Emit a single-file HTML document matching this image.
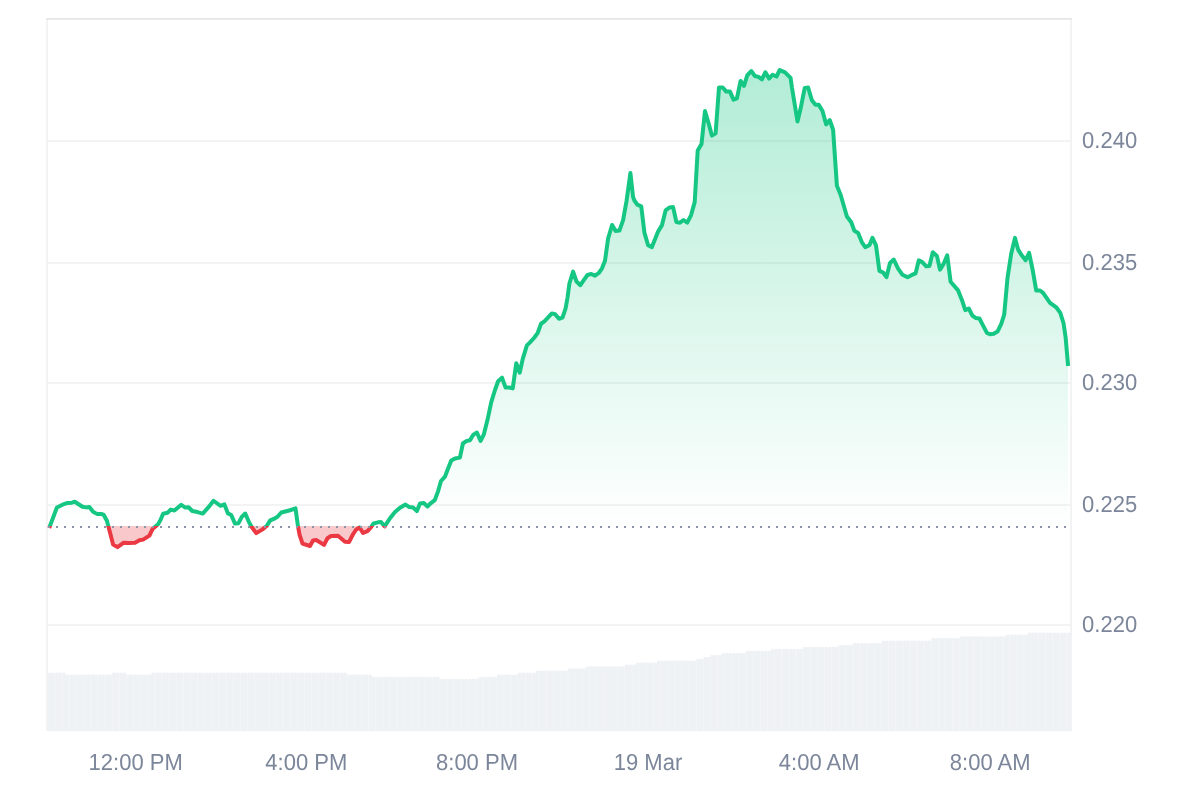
<!DOCTYPE html>
<html lang="en"><head><meta charset="utf-8"><title>Price chart</title>
<style>
html,body{margin:0;padding:0;background:#fff;width:1200px;height:800px;overflow:hidden}
svg{display:block}
.t{font-family:"Liberation Sans",Arial,Helvetica,sans-serif;font-size:22px;text-rendering:geometricPrecision;fill:#7b8599}
</style></head><body>
<svg width="1200" height="800" viewBox="0 0 1200 800">
<defs>
<linearGradient id="gg" gradientUnits="userSpaceOnUse" x1="0" y1="69" x2="0" y2="526.1">
<stop offset="0" stop-color="#16c784" stop-opacity="0.33"/>
<stop offset="1" stop-color="#16c784" stop-opacity="0"/>
</linearGradient>
<clipPath id="up"><rect x="0" y="0" width="1200" height="526.1"/></clipPath>
<clipPath id="dn"><rect x="0" y="526.1" width="1200" height="300"/></clipPath>
</defs>
<rect width="1200" height="800" fill="#fff"/>
<line x1="47.0" x2="1071.0" y1="141.1" y2="141.1" stroke="#f3f3f3" stroke-width="2"/>
<line x1="47.0" x2="1071.0" y1="263.0" y2="263.0" stroke="#f3f3f3" stroke-width="2"/>
<line x1="47.0" x2="1071.0" y1="383.0" y2="383.0" stroke="#f3f3f3" stroke-width="2"/>
<line x1="47.0" x2="1071.0" y1="504.9" y2="504.9" stroke="#f3f3f3" stroke-width="2"/>
<line x1="47.0" x2="1071.0" y1="625.1" y2="625.1" stroke="#f3f3f3" stroke-width="2"/>
<path d="M47.05,731 V18.8 M1071.1,731 V18.8" fill="none" stroke="#f2f2f2" stroke-width="1.8"/>
<path d="M46.2,18.8 H1072" fill="none" stroke="#e6e6e6" stroke-width="1.8"/>
<path d="M47.90,731.3 V673.90 Q47.90,672.50 49.30,672.50 H50.06 Q51.46,672.50 51.46,673.90 V731.3 Z M51.46,731.3 V673.90 Q51.46,672.50 52.86,672.50 H53.62 Q55.02,672.50 55.02,673.90 V731.3 Z M55.02,731.3 V673.90 Q55.02,672.50 56.42,672.50 H57.19 Q58.59,672.50 58.59,673.90 V731.3 Z M58.59,731.3 V673.90 Q58.59,672.50 59.99,672.50 H60.75 Q62.15,672.50 62.15,673.90 V731.3 Z M62.15,731.3 V673.90 Q62.15,672.50 63.55,672.50 H64.31 Q65.71,672.50 65.71,673.90 V731.3 Z M65.71,731.3 V675.90 Q65.71,674.50 67.11,674.50 H67.87 Q69.27,674.50 69.27,675.90 V731.3 Z M69.27,731.3 V675.90 Q69.27,674.50 70.67,674.50 H71.44 Q72.84,674.50 72.84,675.90 V731.3 Z M72.84,731.3 V675.90 Q72.84,674.50 74.24,674.50 H75.00 Q76.40,674.50 76.40,675.90 V731.3 Z M76.40,731.3 V675.90 Q76.40,674.50 77.80,674.50 H78.56 Q79.96,674.50 79.96,675.90 V731.3 Z M79.96,731.3 V675.90 Q79.96,674.50 81.36,674.50 H82.12 Q83.52,674.50 83.52,675.90 V731.3 Z M83.52,731.3 V675.90 Q83.52,674.50 84.92,674.50 H85.69 Q87.09,674.50 87.09,675.90 V731.3 Z M87.09,731.3 V675.90 Q87.09,674.50 88.49,674.50 H89.25 Q90.65,674.50 90.65,675.90 V731.3 Z M90.65,731.3 V675.90 Q90.65,674.50 92.05,674.50 H92.81 Q94.21,674.50 94.21,675.90 V731.3 Z M94.21,731.3 V675.90 Q94.21,674.50 95.61,674.50 H96.37 Q97.77,674.50 97.77,675.90 V731.3 Z M97.77,731.3 V675.90 Q97.77,674.50 99.17,674.50 H99.93 Q101.33,674.50 101.33,675.90 V731.3 Z M101.33,731.3 V675.90 Q101.33,674.50 102.73,674.50 H103.50 Q104.90,674.50 104.90,675.90 V731.3 Z M104.90,731.3 V675.90 Q104.90,674.50 106.30,674.50 H107.06 Q108.46,674.50 108.46,675.90 V731.3 Z M108.46,731.3 V675.90 Q108.46,674.50 109.86,674.50 H110.62 Q112.02,674.50 112.02,675.90 V731.3 Z M112.02,731.3 V673.90 Q112.02,672.50 113.42,672.50 H114.18 Q115.58,672.50 115.58,673.90 V731.3 Z M115.58,731.3 V673.90 Q115.58,672.50 116.98,672.50 H117.75 Q119.15,672.50 119.15,673.90 V731.3 Z M119.15,731.3 V673.90 Q119.15,672.50 120.55,672.50 H121.31 Q122.71,672.50 122.71,673.90 V731.3 Z M122.71,731.3 V673.90 Q122.71,672.50 124.11,672.50 H124.87 Q126.27,672.50 126.27,673.90 V731.3 Z M126.27,731.3 V675.90 Q126.27,674.50 127.67,674.50 H128.43 Q129.83,674.50 129.83,675.90 V731.3 Z M129.83,731.3 V675.90 Q129.83,674.50 131.23,674.50 H132.00 Q133.40,674.50 133.40,675.90 V731.3 Z M133.40,731.3 V675.90 Q133.40,674.50 134.80,674.50 H135.56 Q136.96,674.50 136.96,675.90 V731.3 Z M136.96,731.3 V675.90 Q136.96,674.50 138.36,674.50 H139.12 Q140.52,674.50 140.52,675.90 V731.3 Z M140.52,731.3 V675.90 Q140.52,674.50 141.92,674.50 H142.68 Q144.08,674.50 144.08,675.90 V731.3 Z M144.08,731.3 V675.90 Q144.08,674.50 145.48,674.50 H146.24 Q147.64,674.50 147.64,675.90 V731.3 Z M147.64,731.3 V675.90 Q147.64,674.50 149.04,674.50 H149.81 Q151.21,674.50 151.21,675.90 V731.3 Z M151.21,731.3 V673.90 Q151.21,672.50 152.61,672.50 H153.37 Q154.77,672.50 154.77,673.90 V731.3 Z M154.77,731.3 V673.90 Q154.77,672.50 156.17,672.50 H156.93 Q158.33,672.50 158.33,673.90 V731.3 Z M158.33,731.3 V673.90 Q158.33,672.50 159.73,672.50 H160.49 Q161.89,672.50 161.89,673.90 V731.3 Z M161.89,731.3 V673.90 Q161.89,672.50 163.29,672.50 H164.06 Q165.46,672.50 165.46,673.90 V731.3 Z M165.46,731.3 V673.90 Q165.46,672.50 166.86,672.50 H167.62 Q169.02,672.50 169.02,673.90 V731.3 Z M169.02,731.3 V673.90 Q169.02,672.50 170.42,672.50 H171.18 Q172.58,672.50 172.58,673.90 V731.3 Z M172.58,731.3 V673.90 Q172.58,672.50 173.98,672.50 H174.74 Q176.14,672.50 176.14,673.90 V731.3 Z M176.14,731.3 V673.90 Q176.14,672.50 177.54,672.50 H178.31 Q179.71,672.50 179.71,673.90 V731.3 Z M179.71,731.3 V673.90 Q179.71,672.50 181.11,672.50 H181.87 Q183.27,672.50 183.27,673.90 V731.3 Z M183.27,731.3 V673.90 Q183.27,672.50 184.67,672.50 H185.43 Q186.83,672.50 186.83,673.90 V731.3 Z M186.83,731.3 V673.90 Q186.83,672.50 188.23,672.50 H188.99 Q190.39,672.50 190.39,673.90 V731.3 Z M190.39,731.3 V673.90 Q190.39,672.50 191.79,672.50 H192.55 Q193.95,672.50 193.95,673.90 V731.3 Z M193.95,731.3 V673.90 Q193.95,672.50 195.35,672.50 H196.12 Q197.52,672.50 197.52,673.90 V731.3 Z M197.52,731.3 V673.90 Q197.52,672.50 198.92,672.50 H199.68 Q201.08,672.50 201.08,673.90 V731.3 Z M201.08,731.3 V673.90 Q201.08,672.50 202.48,672.50 H203.24 Q204.64,672.50 204.64,673.90 V731.3 Z M204.64,731.3 V673.90 Q204.64,672.50 206.04,672.50 H206.80 Q208.20,672.50 208.20,673.90 V731.3 Z M208.20,731.3 V673.90 Q208.20,672.50 209.60,672.50 H210.37 Q211.77,672.50 211.77,673.90 V731.3 Z M211.77,731.3 V673.90 Q211.77,672.50 213.17,672.50 H213.93 Q215.33,672.50 215.33,673.90 V731.3 Z M215.33,731.3 V673.90 Q215.33,672.50 216.73,672.50 H217.49 Q218.89,672.50 218.89,673.90 V731.3 Z M218.89,731.3 V673.90 Q218.89,672.50 220.29,672.50 H221.05 Q222.45,672.50 222.45,673.90 V731.3 Z M222.45,731.3 V673.90 Q222.45,672.50 223.85,672.50 H224.61 Q226.01,672.50 226.01,673.90 V731.3 Z M226.01,731.3 V673.90 Q226.01,672.50 227.41,672.50 H228.18 Q229.58,672.50 229.58,673.90 V731.3 Z M229.58,731.3 V673.90 Q229.58,672.50 230.98,672.50 H231.74 Q233.14,672.50 233.14,673.90 V731.3 Z M233.14,731.3 V673.90 Q233.14,672.50 234.54,672.50 H235.30 Q236.70,672.50 236.70,673.90 V731.3 Z M236.70,731.3 V673.90 Q236.70,672.50 238.10,672.50 H238.86 Q240.26,672.50 240.26,673.90 V731.3 Z M240.26,731.3 V673.90 Q240.26,672.50 241.66,672.50 H242.43 Q243.83,672.50 243.83,673.90 V731.3 Z M243.83,731.3 V673.90 Q243.83,672.50 245.23,672.50 H245.99 Q247.39,672.50 247.39,673.90 V731.3 Z M247.39,731.3 V673.90 Q247.39,672.50 248.79,672.50 H249.55 Q250.95,672.50 250.95,673.90 V731.3 Z M250.95,731.3 V673.90 Q250.95,672.50 252.35,672.50 H253.11 Q254.51,672.50 254.51,673.90 V731.3 Z M254.51,731.3 V673.90 Q254.51,672.50 255.91,672.50 H256.68 Q258.08,672.50 258.08,673.90 V731.3 Z M258.08,731.3 V673.90 Q258.08,672.50 259.48,672.50 H260.24 Q261.64,672.50 261.64,673.90 V731.3 Z M261.64,731.3 V673.90 Q261.64,672.50 263.04,672.50 H263.80 Q265.20,672.50 265.20,673.90 V731.3 Z M265.20,731.3 V673.90 Q265.20,672.50 266.60,672.50 H267.36 Q268.76,672.50 268.76,673.90 V731.3 Z M268.76,731.3 V673.90 Q268.76,672.50 270.16,672.50 H270.92 Q272.32,672.50 272.32,673.90 V731.3 Z M272.32,731.3 V673.90 Q272.32,672.50 273.72,672.50 H274.49 Q275.89,672.50 275.89,673.90 V731.3 Z M275.89,731.3 V673.90 Q275.89,672.50 277.29,672.50 H278.05 Q279.45,672.50 279.45,673.90 V731.3 Z M279.45,731.3 V673.90 Q279.45,672.50 280.85,672.50 H281.61 Q283.01,672.50 283.01,673.90 V731.3 Z M283.01,731.3 V673.90 Q283.01,672.50 284.41,672.50 H285.17 Q286.57,672.50 286.57,673.90 V731.3 Z M286.57,731.3 V673.90 Q286.57,672.50 287.97,672.50 H288.74 Q290.14,672.50 290.14,673.90 V731.3 Z M290.14,731.3 V673.90 Q290.14,672.50 291.54,672.50 H292.30 Q293.70,672.50 293.70,673.90 V731.3 Z M293.70,731.3 V673.90 Q293.70,672.50 295.10,672.50 H295.86 Q297.26,672.50 297.26,673.90 V731.3 Z M297.26,731.3 V673.90 Q297.26,672.50 298.66,672.50 H299.42 Q300.82,672.50 300.82,673.90 V731.3 Z M300.82,731.3 V673.90 Q300.82,672.50 302.22,672.50 H302.99 Q304.39,672.50 304.39,673.90 V731.3 Z M304.39,731.3 V673.90 Q304.39,672.50 305.79,672.50 H306.55 Q307.95,672.50 307.95,673.90 V731.3 Z M307.95,731.3 V673.90 Q307.95,672.50 309.35,672.50 H310.11 Q311.51,672.50 311.51,673.90 V731.3 Z M311.51,731.3 V673.90 Q311.51,672.50 312.91,672.50 H313.67 Q315.07,672.50 315.07,673.90 V731.3 Z M315.07,731.3 V673.90 Q315.07,672.50 316.47,672.50 H317.23 Q318.63,672.50 318.63,673.90 V731.3 Z M318.63,731.3 V673.90 Q318.63,672.50 320.03,672.50 H320.80 Q322.20,672.50 322.20,673.90 V731.3 Z M322.20,731.3 V673.90 Q322.20,672.50 323.60,672.50 H324.36 Q325.76,672.50 325.76,673.90 V731.3 Z M325.76,731.3 V673.90 Q325.76,672.50 327.16,672.50 H327.92 Q329.32,672.50 329.32,673.90 V731.3 Z M329.32,731.3 V673.90 Q329.32,672.50 330.72,672.50 H331.48 Q332.88,672.50 332.88,673.90 V731.3 Z M332.88,731.3 V673.90 Q332.88,672.50 334.28,672.50 H335.05 Q336.45,672.50 336.45,673.90 V731.3 Z M336.45,731.3 V673.90 Q336.45,672.50 337.85,672.50 H338.61 Q340.01,672.50 340.01,673.90 V731.3 Z M340.01,731.3 V673.90 Q340.01,672.50 341.41,672.50 H342.17 Q343.57,672.50 343.57,673.90 V731.3 Z M343.57,731.3 V673.90 Q343.57,672.50 344.97,672.50 H345.73 Q347.13,672.50 347.13,673.90 V731.3 Z M347.13,731.3 V675.90 Q347.13,674.50 348.53,674.50 H349.30 Q350.70,674.50 350.70,675.90 V731.3 Z M350.70,731.3 V675.90 Q350.70,674.50 352.10,674.50 H352.86 Q354.26,674.50 354.26,675.90 V731.3 Z M354.26,731.3 V675.90 Q354.26,674.50 355.66,674.50 H356.42 Q357.82,674.50 357.82,675.90 V731.3 Z M357.82,731.3 V675.90 Q357.82,674.50 359.22,674.50 H359.98 Q361.38,674.50 361.38,675.90 V731.3 Z M361.38,731.3 V675.90 Q361.38,674.50 362.78,674.50 H363.54 Q364.94,674.50 364.94,675.90 V731.3 Z M364.94,731.3 V675.90 Q364.94,674.50 366.34,674.50 H367.11 Q368.51,674.50 368.51,675.90 V731.3 Z M368.51,731.3 V675.90 Q368.51,674.50 369.91,674.50 H370.67 Q372.07,674.50 372.07,675.90 V731.3 Z M372.07,731.3 V678.15 Q372.07,676.75 373.47,676.75 H374.23 Q375.63,676.75 375.63,678.15 V731.3 Z M375.63,731.3 V678.15 Q375.63,676.75 377.03,676.75 H377.79 Q379.19,676.75 379.19,678.15 V731.3 Z M379.19,731.3 V678.15 Q379.19,676.75 380.59,676.75 H381.36 Q382.76,676.75 382.76,678.15 V731.3 Z M382.76,731.3 V678.15 Q382.76,676.75 384.16,676.75 H384.92 Q386.32,676.75 386.32,678.15 V731.3 Z M386.32,731.3 V678.15 Q386.32,676.75 387.72,676.75 H388.48 Q389.88,676.75 389.88,678.15 V731.3 Z M389.88,731.3 V678.15 Q389.88,676.75 391.28,676.75 H392.04 Q393.44,676.75 393.44,678.15 V731.3 Z M393.44,731.3 V678.15 Q393.44,676.75 394.84,676.75 H395.61 Q397.01,676.75 397.01,678.15 V731.3 Z M397.01,731.3 V678.15 Q397.01,676.75 398.41,676.75 H399.17 Q400.57,676.75 400.57,678.15 V731.3 Z M400.57,731.3 V678.15 Q400.57,676.75 401.97,676.75 H402.73 Q404.13,676.75 404.13,678.15 V731.3 Z M404.13,731.3 V678.15 Q404.13,676.75 405.53,676.75 H406.29 Q407.69,676.75 407.69,678.15 V731.3 Z M407.69,731.3 V678.15 Q407.69,676.75 409.09,676.75 H409.85 Q411.25,676.75 411.25,678.15 V731.3 Z M411.25,731.3 V678.15 Q411.25,676.75 412.65,676.75 H413.42 Q414.82,676.75 414.82,678.15 V731.3 Z M414.82,731.3 V678.15 Q414.82,676.75 416.22,676.75 H416.98 Q418.38,676.75 418.38,678.15 V731.3 Z M418.38,731.3 V678.15 Q418.38,676.75 419.78,676.75 H420.54 Q421.94,676.75 421.94,678.15 V731.3 Z M421.94,731.3 V678.15 Q421.94,676.75 423.34,676.75 H424.10 Q425.50,676.75 425.50,678.15 V731.3 Z M425.50,731.3 V678.15 Q425.50,676.75 426.90,676.75 H427.67 Q429.07,676.75 429.07,678.15 V731.3 Z M429.07,731.3 V678.15 Q429.07,676.75 430.47,676.75 H431.23 Q432.63,676.75 432.63,678.15 V731.3 Z M432.63,731.3 V678.15 Q432.63,676.75 434.03,676.75 H434.79 Q436.19,676.75 436.19,678.15 V731.3 Z M436.19,731.3 V678.15 Q436.19,676.75 437.59,676.75 H438.35 Q439.75,676.75 439.75,678.15 V731.3 Z M439.75,731.3 V680.15 Q439.75,678.75 441.15,678.75 H441.92 Q443.32,678.75 443.32,680.15 V731.3 Z M443.32,731.3 V680.15 Q443.32,678.75 444.72,678.75 H445.48 Q446.88,678.75 446.88,680.15 V731.3 Z M446.88,731.3 V680.15 Q446.88,678.75 448.28,678.75 H449.04 Q450.44,678.75 450.44,680.15 V731.3 Z M450.44,731.3 V680.15 Q450.44,678.75 451.84,678.75 H452.60 Q454.00,678.75 454.00,680.15 V731.3 Z M454.00,731.3 V680.15 Q454.00,678.75 455.40,678.75 H456.16 Q457.56,678.75 457.56,680.15 V731.3 Z M457.56,731.3 V680.15 Q457.56,678.75 458.96,678.75 H459.73 Q461.13,678.75 461.13,680.15 V731.3 Z M461.13,731.3 V680.15 Q461.13,678.75 462.53,678.75 H463.29 Q464.69,678.75 464.69,680.15 V731.3 Z M464.69,731.3 V680.15 Q464.69,678.75 466.09,678.75 H466.85 Q468.25,678.75 468.25,680.15 V731.3 Z M468.25,731.3 V680.15 Q468.25,678.75 469.65,678.75 H470.41 Q471.81,678.75 471.81,680.15 V731.3 Z M471.81,731.3 V680.15 Q471.81,678.75 473.21,678.75 H473.98 Q475.38,678.75 475.38,680.15 V731.3 Z M475.38,731.3 V680.15 Q475.38,678.75 476.78,678.75 H477.54 Q478.94,678.75 478.94,680.15 V731.3 Z M478.94,731.3 V678.15 Q478.94,676.75 480.34,676.75 H481.10 Q482.50,676.75 482.50,678.15 V731.3 Z M482.50,731.3 V678.15 Q482.50,676.75 483.90,676.75 H484.66 Q486.06,676.75 486.06,678.15 V731.3 Z M486.06,731.3 V678.15 Q486.06,676.75 487.46,676.75 H488.23 Q489.63,676.75 489.63,678.15 V731.3 Z M489.63,731.3 V678.15 Q489.63,676.75 491.03,676.75 H491.79 Q493.19,676.75 493.19,678.15 V731.3 Z M493.19,731.3 V678.15 Q493.19,676.75 494.59,676.75 H495.35 Q496.75,676.75 496.75,678.15 V731.3 Z M496.75,731.3 V675.90 Q496.75,674.50 498.15,674.50 H498.91 Q500.31,674.50 500.31,675.90 V731.3 Z M500.31,731.3 V675.90 Q500.31,674.50 501.71,674.50 H502.47 Q503.87,674.50 503.87,675.90 V731.3 Z M503.87,731.3 V675.90 Q503.87,674.50 505.27,674.50 H506.04 Q507.44,674.50 507.44,675.90 V731.3 Z M507.44,731.3 V675.90 Q507.44,674.50 508.84,674.50 H509.60 Q511.00,674.50 511.00,675.90 V731.3 Z M511.00,731.3 V675.90 Q511.00,674.50 512.40,674.50 H513.16 Q514.56,674.50 514.56,675.90 V731.3 Z M514.56,731.3 V675.90 Q514.56,674.50 515.96,674.50 H516.72 Q518.12,674.50 518.12,675.90 V731.3 Z M518.12,731.3 V673.90 Q518.12,672.50 519.52,672.50 H520.29 Q521.69,672.50 521.69,673.90 V731.3 Z M521.69,731.3 V673.90 Q521.69,672.50 523.09,672.50 H523.85 Q525.25,672.50 525.25,673.90 V731.3 Z M525.25,731.3 V673.90 Q525.25,672.50 526.65,672.50 H527.41 Q528.81,672.50 528.81,673.90 V731.3 Z M528.81,731.3 V673.90 Q528.81,672.50 530.21,672.50 H530.97 Q532.37,672.50 532.37,673.90 V731.3 Z M532.37,731.3 V673.90 Q532.37,672.50 533.77,672.50 H534.54 Q535.94,672.50 535.94,673.90 V731.3 Z M535.94,731.3 V671.90 Q535.94,670.50 537.34,670.50 H538.10 Q539.50,670.50 539.50,671.90 V731.3 Z M539.50,731.3 V671.90 Q539.50,670.50 540.90,670.50 H541.66 Q543.06,670.50 543.06,671.90 V731.3 Z M543.06,731.3 V671.90 Q543.06,670.50 544.46,670.50 H545.22 Q546.62,670.50 546.62,671.90 V731.3 Z M546.62,731.3 V671.90 Q546.62,670.50 548.02,670.50 H548.78 Q550.18,670.50 550.18,671.90 V731.3 Z M550.18,731.3 V671.90 Q550.18,670.50 551.58,670.50 H552.35 Q553.75,670.50 553.75,671.90 V731.3 Z M553.75,731.3 V671.90 Q553.75,670.50 555.15,670.50 H555.91 Q557.31,670.50 557.31,671.90 V731.3 Z M557.31,731.3 V671.90 Q557.31,670.50 558.71,670.50 H559.47 Q560.87,670.50 560.87,671.90 V731.3 Z M560.87,731.3 V671.90 Q560.87,670.50 562.27,670.50 H563.03 Q564.43,670.50 564.43,671.90 V731.3 Z M564.43,731.3 V671.90 Q564.43,670.50 565.83,670.50 H566.60 Q568.00,670.50 568.00,671.90 V731.3 Z M568.00,731.3 V669.65 Q568.00,668.25 569.40,668.25 H570.16 Q571.56,668.25 571.56,669.65 V731.3 Z M571.56,731.3 V669.65 Q571.56,668.25 572.96,668.25 H573.72 Q575.12,668.25 575.12,669.65 V731.3 Z M575.12,731.3 V669.65 Q575.12,668.25 576.52,668.25 H577.28 Q578.68,668.25 578.68,669.65 V731.3 Z M578.68,731.3 V669.65 Q578.68,668.25 580.08,668.25 H580.85 Q582.25,668.25 582.25,669.65 V731.3 Z M582.25,731.3 V669.65 Q582.25,668.25 583.65,668.25 H584.41 Q585.81,668.25 585.81,669.65 V731.3 Z M585.81,731.3 V667.60 Q585.81,666.20 587.21,666.20 H587.97 Q589.37,666.20 589.37,667.60 V731.3 Z M589.37,731.3 V667.60 Q589.37,666.20 590.77,666.20 H591.53 Q592.93,666.20 592.93,667.60 V731.3 Z M592.93,731.3 V667.60 Q592.93,666.20 594.33,666.20 H595.09 Q596.49,666.20 596.49,667.60 V731.3 Z M596.49,731.3 V667.60 Q596.49,666.20 597.89,666.20 H598.66 Q600.06,666.20 600.06,667.60 V731.3 Z M600.06,731.3 V667.60 Q600.06,666.20 601.46,666.20 H602.22 Q603.62,666.20 603.62,667.60 V731.3 Z M603.62,731.3 V667.60 Q603.62,666.20 605.02,666.20 H605.78 Q607.18,666.20 607.18,667.60 V731.3 Z M607.18,731.3 V667.60 Q607.18,666.20 608.58,666.20 H609.34 Q610.74,666.20 610.74,667.60 V731.3 Z M610.74,731.3 V667.60 Q610.74,666.20 612.14,666.20 H612.91 Q614.31,666.20 614.31,667.60 V731.3 Z M614.31,731.3 V667.60 Q614.31,666.20 615.71,666.20 H616.47 Q617.87,666.20 617.87,667.60 V731.3 Z M617.87,731.3 V667.60 Q617.87,666.20 619.27,666.20 H620.03 Q621.43,666.20 621.43,667.60 V731.3 Z M621.43,731.3 V667.60 Q621.43,666.20 622.83,666.20 H623.59 Q624.99,666.20 624.99,667.60 V731.3 Z M624.99,731.3 V666.00 Q624.99,664.60 626.39,664.60 H627.15 Q628.55,664.60 628.55,666.00 V731.3 Z M628.55,731.3 V666.00 Q628.55,664.60 629.95,664.60 H630.72 Q632.12,664.60 632.12,666.00 V731.3 Z M632.12,731.3 V666.00 Q632.12,664.60 633.52,664.60 H634.28 Q635.68,664.60 635.68,666.00 V731.3 Z M635.68,731.3 V663.90 Q635.68,662.50 637.08,662.50 H637.84 Q639.24,662.50 639.24,663.90 V731.3 Z M639.24,731.3 V663.90 Q639.24,662.50 640.64,662.50 H641.40 Q642.80,662.50 642.80,663.90 V731.3 Z M642.80,731.3 V663.90 Q642.80,662.50 644.20,662.50 H644.97 Q646.37,662.50 646.37,663.90 V731.3 Z M646.37,731.3 V663.90 Q646.37,662.50 647.77,662.50 H648.53 Q649.93,662.50 649.93,663.90 V731.3 Z M649.93,731.3 V663.90 Q649.93,662.50 651.33,662.50 H652.09 Q653.49,662.50 653.49,663.90 V731.3 Z M653.49,731.3 V663.90 Q653.49,662.50 654.89,662.50 H655.65 Q657.05,662.50 657.05,663.90 V731.3 Z M657.05,731.3 V661.90 Q657.05,660.50 658.45,660.50 H659.22 Q660.62,660.50 660.62,661.90 V731.3 Z M660.62,731.3 V661.90 Q660.62,660.50 662.02,660.50 H662.78 Q664.18,660.50 664.18,661.90 V731.3 Z M664.18,731.3 V661.90 Q664.18,660.50 665.58,660.50 H666.34 Q667.74,660.50 667.74,661.90 V731.3 Z M667.74,731.3 V661.90 Q667.74,660.50 669.14,660.50 H669.90 Q671.30,660.50 671.30,661.90 V731.3 Z M671.30,731.3 V661.90 Q671.30,660.50 672.70,660.50 H673.46 Q674.86,660.50 674.86,661.90 V731.3 Z M674.86,731.3 V661.90 Q674.86,660.50 676.26,660.50 H677.03 Q678.43,660.50 678.43,661.90 V731.3 Z M678.43,731.3 V661.90 Q678.43,660.50 679.83,660.50 H680.59 Q681.99,660.50 681.99,661.90 V731.3 Z M681.99,731.3 V661.90 Q681.99,660.50 683.39,660.50 H684.15 Q685.55,660.50 685.55,661.90 V731.3 Z M685.55,731.3 V661.90 Q685.55,660.50 686.95,660.50 H687.71 Q689.11,660.50 689.11,661.90 V731.3 Z M689.11,731.3 V661.90 Q689.11,660.50 690.51,660.50 H691.28 Q692.68,660.50 692.68,661.90 V731.3 Z M692.68,731.3 V661.90 Q692.68,660.50 694.08,660.50 H694.84 Q696.24,660.50 696.24,661.90 V731.3 Z M696.24,731.3 V660.15 Q696.24,658.75 697.64,658.75 H698.40 Q699.80,658.75 699.80,660.15 V731.3 Z M699.80,731.3 V660.15 Q699.80,658.75 701.20,658.75 H701.96 Q703.36,658.75 703.36,660.15 V731.3 Z M703.36,731.3 V658.40 Q703.36,657.00 704.76,657.00 H705.53 Q706.93,657.00 706.93,658.40 V731.3 Z M706.93,731.3 V658.40 Q706.93,657.00 708.33,657.00 H709.09 Q710.49,657.00 710.49,658.40 V731.3 Z M710.49,731.3 V656.40 Q710.49,655.00 711.89,655.00 H712.65 Q714.05,655.00 714.05,656.40 V731.3 Z M714.05,731.3 V656.40 Q714.05,655.00 715.45,655.00 H716.21 Q717.61,655.00 717.61,656.40 V731.3 Z M717.61,731.3 V656.40 Q717.61,655.00 719.01,655.00 H719.77 Q721.17,655.00 721.17,656.40 V731.3 Z M721.17,731.3 V654.40 Q721.17,653.00 722.57,653.00 H723.34 Q724.74,653.00 724.74,654.40 V731.3 Z M724.74,731.3 V654.40 Q724.74,653.00 726.14,653.00 H726.90 Q728.30,653.00 728.30,654.40 V731.3 Z M728.30,731.3 V654.40 Q728.30,653.00 729.70,653.00 H730.46 Q731.86,653.00 731.86,654.40 V731.3 Z M731.86,731.3 V654.40 Q731.86,653.00 733.26,653.00 H734.02 Q735.42,653.00 735.42,654.40 V731.3 Z M735.42,731.3 V654.40 Q735.42,653.00 736.82,653.00 H737.59 Q738.99,653.00 738.99,654.40 V731.3 Z M738.99,731.3 V654.40 Q738.99,653.00 740.39,653.00 H741.15 Q742.55,653.00 742.55,654.40 V731.3 Z M742.55,731.3 V654.40 Q742.55,653.00 743.95,653.00 H744.71 Q746.11,653.00 746.11,654.40 V731.3 Z M746.11,731.3 V652.15 Q746.11,650.75 747.51,650.75 H748.27 Q749.67,650.75 749.67,652.15 V731.3 Z M749.67,731.3 V652.15 Q749.67,650.75 751.07,650.75 H751.84 Q753.24,650.75 753.24,652.15 V731.3 Z M753.24,731.3 V652.15 Q753.24,650.75 754.64,650.75 H755.40 Q756.80,650.75 756.80,652.15 V731.3 Z M756.80,731.3 V652.15 Q756.80,650.75 758.20,650.75 H758.96 Q760.36,650.75 760.36,652.15 V731.3 Z M760.36,731.3 V652.15 Q760.36,650.75 761.76,650.75 H762.52 Q763.92,650.75 763.92,652.15 V731.3 Z M763.92,731.3 V652.15 Q763.92,650.75 765.32,650.75 H766.08 Q767.48,650.75 767.48,652.15 V731.3 Z M767.48,731.3 V652.15 Q767.48,650.75 768.88,650.75 H769.65 Q771.05,650.75 771.05,652.15 V731.3 Z M771.05,731.3 V650.15 Q771.05,648.75 772.45,648.75 H773.21 Q774.61,648.75 774.61,650.15 V731.3 Z M774.61,731.3 V650.15 Q774.61,648.75 776.01,648.75 H776.77 Q778.17,648.75 778.17,650.15 V731.3 Z M778.17,731.3 V650.15 Q778.17,648.75 779.57,648.75 H780.33 Q781.73,648.75 781.73,650.15 V731.3 Z M781.73,731.3 V650.15 Q781.73,648.75 783.13,648.75 H783.90 Q785.30,648.75 785.30,650.15 V731.3 Z M785.30,731.3 V650.15 Q785.30,648.75 786.70,648.75 H787.46 Q788.86,648.75 788.86,650.15 V731.3 Z M788.86,731.3 V650.15 Q788.86,648.75 790.26,648.75 H791.02 Q792.42,648.75 792.42,650.15 V731.3 Z M792.42,731.3 V650.15 Q792.42,648.75 793.82,648.75 H794.58 Q795.98,648.75 795.98,650.15 V731.3 Z M795.98,731.3 V650.15 Q795.98,648.75 797.38,648.75 H798.15 Q799.55,648.75 799.55,650.15 V731.3 Z M799.55,731.3 V650.15 Q799.55,648.75 800.95,648.75 H801.71 Q803.11,648.75 803.11,650.15 V731.3 Z M803.11,731.3 V648.15 Q803.11,646.75 804.51,646.75 H805.27 Q806.67,646.75 806.67,648.15 V731.3 Z M806.67,731.3 V648.15 Q806.67,646.75 808.07,646.75 H808.83 Q810.23,646.75 810.23,648.15 V731.3 Z M810.23,731.3 V648.15 Q810.23,646.75 811.63,646.75 H812.39 Q813.79,646.75 813.79,648.15 V731.3 Z M813.79,731.3 V648.15 Q813.79,646.75 815.19,646.75 H815.96 Q817.36,646.75 817.36,648.15 V731.3 Z M817.36,731.3 V648.15 Q817.36,646.75 818.76,646.75 H819.52 Q820.92,646.75 820.92,648.15 V731.3 Z M820.92,731.3 V648.15 Q820.92,646.75 822.32,646.75 H823.08 Q824.48,646.75 824.48,648.15 V731.3 Z M824.48,731.3 V648.15 Q824.48,646.75 825.88,646.75 H826.64 Q828.04,646.75 828.04,648.15 V731.3 Z M828.04,731.3 V648.15 Q828.04,646.75 829.44,646.75 H830.21 Q831.61,646.75 831.61,648.15 V731.3 Z M831.61,731.3 V648.15 Q831.61,646.75 833.01,646.75 H833.77 Q835.17,646.75 835.17,648.15 V731.3 Z M835.17,731.3 V648.15 Q835.17,646.75 836.57,646.75 H837.33 Q838.73,646.75 838.73,648.15 V731.3 Z M838.73,731.3 V646.40 Q838.73,645.00 840.13,645.00 H840.89 Q842.29,645.00 842.29,646.40 V731.3 Z M842.29,731.3 V646.40 Q842.29,645.00 843.69,645.00 H844.46 Q845.86,645.00 845.86,646.40 V731.3 Z M845.86,731.3 V646.40 Q845.86,645.00 847.26,645.00 H848.02 Q849.42,645.00 849.42,646.40 V731.3 Z M849.42,731.3 V646.40 Q849.42,645.00 850.82,645.00 H851.58 Q852.98,645.00 852.98,646.40 V731.3 Z M852.98,731.3 V644.40 Q852.98,643.00 854.38,643.00 H855.14 Q856.54,643.00 856.54,644.40 V731.3 Z M856.54,731.3 V644.40 Q856.54,643.00 857.94,643.00 H858.70 Q860.10,643.00 860.10,644.40 V731.3 Z M860.10,731.3 V644.40 Q860.10,643.00 861.50,643.00 H862.27 Q863.67,643.00 863.67,644.40 V731.3 Z M863.67,731.3 V644.40 Q863.67,643.00 865.07,643.00 H865.83 Q867.23,643.00 867.23,644.40 V731.3 Z M867.23,731.3 V644.40 Q867.23,643.00 868.63,643.00 H869.39 Q870.79,643.00 870.79,644.40 V731.3 Z M870.79,731.3 V644.40 Q870.79,643.00 872.19,643.00 H872.95 Q874.35,643.00 874.35,644.40 V731.3 Z M874.35,731.3 V644.40 Q874.35,643.00 875.75,643.00 H876.52 Q877.92,643.00 877.92,644.40 V731.3 Z M877.92,731.3 V644.40 Q877.92,643.00 879.32,643.00 H880.08 Q881.48,643.00 881.48,644.40 V731.3 Z M881.48,731.3 V641.90 Q881.48,640.50 882.88,640.50 H883.64 Q885.04,640.50 885.04,641.90 V731.3 Z M885.04,731.3 V641.90 Q885.04,640.50 886.44,640.50 H887.20 Q888.60,640.50 888.60,641.90 V731.3 Z M888.60,731.3 V641.90 Q888.60,640.50 890.00,640.50 H890.77 Q892.17,640.50 892.17,641.90 V731.3 Z M892.17,731.3 V641.90 Q892.17,640.50 893.57,640.50 H894.33 Q895.73,640.50 895.73,641.90 V731.3 Z M895.73,731.3 V641.90 Q895.73,640.50 897.13,640.50 H897.89 Q899.29,640.50 899.29,641.90 V731.3 Z M899.29,731.3 V641.90 Q899.29,640.50 900.69,640.50 H901.45 Q902.85,640.50 902.85,641.90 V731.3 Z M902.85,731.3 V641.90 Q902.85,640.50 904.25,640.50 H905.01 Q906.41,640.50 906.41,641.90 V731.3 Z M906.41,731.3 V641.90 Q906.41,640.50 907.81,640.50 H908.58 Q909.98,640.50 909.98,641.90 V731.3 Z M909.98,731.3 V641.90 Q909.98,640.50 911.38,640.50 H912.14 Q913.54,640.50 913.54,641.90 V731.3 Z M913.54,731.3 V641.90 Q913.54,640.50 914.94,640.50 H915.70 Q917.10,640.50 917.10,641.90 V731.3 Z M917.10,731.3 V641.90 Q917.10,640.50 918.50,640.50 H919.26 Q920.66,640.50 920.66,641.90 V731.3 Z M920.66,731.3 V641.90 Q920.66,640.50 922.06,640.50 H922.83 Q924.23,640.50 924.23,641.90 V731.3 Z M924.23,731.3 V641.90 Q924.23,640.50 925.63,640.50 H926.39 Q927.79,640.50 927.79,641.90 V731.3 Z M927.79,731.3 V641.90 Q927.79,640.50 929.19,640.50 H929.95 Q931.35,640.50 931.35,641.90 V731.3 Z M931.35,731.3 V639.40 Q931.35,638.00 932.75,638.00 H933.51 Q934.91,638.00 934.91,639.40 V731.3 Z M934.91,731.3 V639.40 Q934.91,638.00 936.31,638.00 H937.08 Q938.48,638.00 938.48,639.40 V731.3 Z M938.48,731.3 V639.40 Q938.48,638.00 939.88,638.00 H940.64 Q942.04,638.00 942.04,639.40 V731.3 Z M942.04,731.3 V639.40 Q942.04,638.00 943.44,638.00 H944.20 Q945.60,638.00 945.60,639.40 V731.3 Z M945.60,731.3 V639.40 Q945.60,638.00 947.00,638.00 H947.76 Q949.16,638.00 949.16,639.40 V731.3 Z M949.16,731.3 V639.40 Q949.16,638.00 950.56,638.00 H951.32 Q952.72,638.00 952.72,639.40 V731.3 Z M952.72,731.3 V639.40 Q952.72,638.00 954.12,638.00 H954.89 Q956.29,638.00 956.29,639.40 V731.3 Z M956.29,731.3 V639.40 Q956.29,638.00 957.69,638.00 H958.45 Q959.85,638.00 959.85,639.40 V731.3 Z M959.85,731.3 V637.65 Q959.85,636.25 961.25,636.25 H962.01 Q963.41,636.25 963.41,637.65 V731.3 Z M963.41,731.3 V637.65 Q963.41,636.25 964.81,636.25 H965.57 Q966.97,636.25 966.97,637.65 V731.3 Z M966.97,731.3 V637.65 Q966.97,636.25 968.37,636.25 H969.14 Q970.54,636.25 970.54,637.65 V731.3 Z M970.54,731.3 V637.65 Q970.54,636.25 971.94,636.25 H972.70 Q974.10,636.25 974.10,637.65 V731.3 Z M974.10,731.3 V637.65 Q974.10,636.25 975.50,636.25 H976.26 Q977.66,636.25 977.66,637.65 V731.3 Z M977.66,731.3 V637.65 Q977.66,636.25 979.06,636.25 H979.82 Q981.22,636.25 981.22,637.65 V731.3 Z M981.22,731.3 V637.65 Q981.22,636.25 982.62,636.25 H983.38 Q984.78,636.25 984.78,637.65 V731.3 Z M984.78,731.3 V637.65 Q984.78,636.25 986.18,636.25 H986.95 Q988.35,636.25 988.35,637.65 V731.3 Z M988.35,731.3 V637.65 Q988.35,636.25 989.75,636.25 H990.51 Q991.91,636.25 991.91,637.65 V731.3 Z M991.91,731.3 V637.65 Q991.91,636.25 993.31,636.25 H994.07 Q995.47,636.25 995.47,637.65 V731.3 Z M995.47,731.3 V637.65 Q995.47,636.25 996.87,636.25 H997.63 Q999.03,636.25 999.03,637.65 V731.3 Z M999.03,731.3 V637.65 Q999.03,636.25 1000.43,636.25 H1001.20 Q1002.60,636.25 1002.60,637.65 V731.3 Z M1002.60,731.3 V637.65 Q1002.60,636.25 1004.00,636.25 H1004.76 Q1006.16,636.25 1006.16,637.65 V731.3 Z M1006.16,731.3 V635.90 Q1006.16,634.50 1007.56,634.50 H1008.32 Q1009.72,634.50 1009.72,635.90 V731.3 Z M1009.72,731.3 V635.90 Q1009.72,634.50 1011.12,634.50 H1011.88 Q1013.28,634.50 1013.28,635.90 V731.3 Z M1013.28,731.3 V635.90 Q1013.28,634.50 1014.68,634.50 H1015.45 Q1016.85,634.50 1016.85,635.90 V731.3 Z M1016.85,731.3 V635.90 Q1016.85,634.50 1018.25,634.50 H1019.01 Q1020.41,634.50 1020.41,635.90 V731.3 Z M1020.41,731.3 V635.90 Q1020.41,634.50 1021.81,634.50 H1022.57 Q1023.97,634.50 1023.97,635.90 V731.3 Z M1023.97,731.3 V635.90 Q1023.97,634.50 1025.37,634.50 H1026.13 Q1027.53,634.50 1027.53,635.90 V731.3 Z M1027.53,731.3 V633.90 Q1027.53,632.50 1028.93,632.50 H1029.69 Q1031.09,632.50 1031.09,633.90 V731.3 Z M1031.09,731.3 V633.90 Q1031.09,632.50 1032.49,632.50 H1033.26 Q1034.66,632.50 1034.66,633.90 V731.3 Z M1034.66,731.3 V633.90 Q1034.66,632.50 1036.06,632.50 H1036.82 Q1038.22,632.50 1038.22,633.90 V731.3 Z M1038.22,731.3 V633.90 Q1038.22,632.50 1039.62,632.50 H1040.38 Q1041.78,632.50 1041.78,633.90 V731.3 Z M1041.78,731.3 V633.90 Q1041.78,632.50 1043.18,632.50 H1043.94 Q1045.34,632.50 1045.34,633.90 V731.3 Z M1045.34,731.3 V633.90 Q1045.34,632.50 1046.74,632.50 H1047.51 Q1048.91,632.50 1048.91,633.90 V731.3 Z M1048.91,731.3 V633.90 Q1048.91,632.50 1050.31,632.50 H1051.07 Q1052.47,632.50 1052.47,633.90 V731.3 Z M1052.47,731.3 V633.90 Q1052.47,632.50 1053.87,632.50 H1054.63 Q1056.03,632.50 1056.03,633.90 V731.3 Z M1056.03,731.3 V633.90 Q1056.03,632.50 1057.43,632.50 H1058.19 Q1059.59,632.50 1059.59,633.90 V731.3 Z M1059.59,731.3 V633.90 Q1059.59,632.50 1060.99,632.50 H1061.76 Q1063.16,632.50 1063.16,633.90 V731.3 Z M1063.16,731.3 V633.90 Q1063.16,632.50 1064.56,632.50 H1065.32 Q1066.72,632.50 1066.72,633.90 V731.3 Z M1066.72,731.3 V633.90 Q1066.72,632.50 1068.12,632.50 H1068.88 Q1070.28,632.50 1070.28,633.90 V731.3 Z M1070.28,731.3 V633.90 Q1070.28,632.50 1071.68,632.50 H1070.10 Q1071.50,632.50 1071.50,633.90 V731.3 Z " fill="#eff2f5"/>
<path d="M55.02,674.00 V731.3M62.15,674.00 V731.3M69.27,676.00 V731.3M76.40,676.00 V731.3M83.52,676.00 V731.3M90.65,676.00 V731.3M97.77,676.00 V731.3M104.90,676.00 V731.3M112.02,676.00 V731.3M119.15,674.00 V731.3M126.27,676.00 V731.3M133.40,676.00 V731.3M140.52,676.00 V731.3M147.64,676.00 V731.3M154.77,674.00 V731.3M161.89,674.00 V731.3M169.02,674.00 V731.3M176.14,674.00 V731.3M183.27,674.00 V731.3M190.39,674.00 V731.3M197.52,674.00 V731.3M204.64,674.00 V731.3M211.77,674.00 V731.3M218.89,674.00 V731.3M226.01,674.00 V731.3M233.14,674.00 V731.3M240.26,674.00 V731.3M247.39,674.00 V731.3M254.51,674.00 V731.3M261.64,674.00 V731.3M268.76,674.00 V731.3M275.89,674.00 V731.3M283.01,674.00 V731.3M290.14,674.00 V731.3M297.26,674.00 V731.3M304.39,674.00 V731.3M311.51,674.00 V731.3M318.63,674.00 V731.3M325.76,674.00 V731.3M332.88,674.00 V731.3M340.01,674.00 V731.3M347.13,676.00 V731.3M354.26,676.00 V731.3M361.38,676.00 V731.3M368.51,676.00 V731.3M375.63,678.25 V731.3M382.76,678.25 V731.3M389.88,678.25 V731.3M397.01,678.25 V731.3M404.13,678.25 V731.3M411.25,678.25 V731.3M418.38,678.25 V731.3M425.50,678.25 V731.3M432.63,678.25 V731.3M439.75,680.25 V731.3M446.88,680.25 V731.3M454.00,680.25 V731.3M461.13,680.25 V731.3M468.25,680.25 V731.3M475.38,680.25 V731.3M482.50,678.25 V731.3M489.63,678.25 V731.3M496.75,678.25 V731.3M503.87,676.00 V731.3M511.00,676.00 V731.3M518.12,676.00 V731.3M525.25,674.00 V731.3M532.37,674.00 V731.3M539.50,672.00 V731.3M546.62,672.00 V731.3M553.75,672.00 V731.3M560.87,672.00 V731.3M568.00,672.00 V731.3M575.12,669.75 V731.3M582.25,669.75 V731.3M589.37,667.70 V731.3M596.49,667.70 V731.3M603.62,667.70 V731.3M610.74,667.70 V731.3M617.87,667.70 V731.3M624.99,667.70 V731.3M632.12,666.10 V731.3M639.24,664.00 V731.3M646.37,664.00 V731.3M653.49,664.00 V731.3M660.62,662.00 V731.3M667.74,662.00 V731.3M674.86,662.00 V731.3M681.99,662.00 V731.3M689.11,662.00 V731.3M696.24,662.00 V731.3M703.36,660.25 V731.3M710.49,658.50 V731.3M717.61,656.50 V731.3M724.74,654.50 V731.3M731.86,654.50 V731.3M738.99,654.50 V731.3M746.11,654.50 V731.3M753.24,652.25 V731.3M760.36,652.25 V731.3M767.48,652.25 V731.3M774.61,650.25 V731.3M781.73,650.25 V731.3M788.86,650.25 V731.3M795.98,650.25 V731.3M803.11,650.25 V731.3M810.23,648.25 V731.3M817.36,648.25 V731.3M824.48,648.25 V731.3M831.61,648.25 V731.3M838.73,648.25 V731.3M845.86,646.50 V731.3M852.98,646.50 V731.3M860.10,644.50 V731.3M867.23,644.50 V731.3M874.35,644.50 V731.3M881.48,644.50 V731.3M888.60,642.00 V731.3M895.73,642.00 V731.3M902.85,642.00 V731.3M909.98,642.00 V731.3M917.10,642.00 V731.3M924.23,642.00 V731.3M931.35,642.00 V731.3M938.48,639.50 V731.3M945.60,639.50 V731.3M952.72,639.50 V731.3M959.85,639.50 V731.3M966.97,637.75 V731.3M974.10,637.75 V731.3M981.22,637.75 V731.3M988.35,637.75 V731.3M995.47,637.75 V731.3M1002.60,637.75 V731.3M1009.72,636.00 V731.3M1016.85,636.00 V731.3M1023.97,636.00 V731.3M1031.09,634.00 V731.3M1038.22,634.00 V731.3M1045.34,634.00 V731.3M1052.47,634.00 V731.3M1059.59,634.00 V731.3M1066.72,634.00 V731.3" stroke="#f5f7f9" stroke-width="0.6" fill="none"/>
<path d="M49.20,528.00 L56.90,507.50 L62.50,504.73 L67.50,502.98 L71.90,502.64 L74.75,501.72 L82.50,506.75 L86.25,507.40 L89.40,507.07 L93.10,511.72 L96.90,513.88 L101.25,513.88 L103.75,514.93 L106.90,520.67 L108.50,526.86 L113.10,544.60 L117.50,547.12 L123.75,542.69 L128.75,543.02 L135.00,542.74 L139.40,540.30 L143.10,539.63 L149.40,535.60 L152.50,529.04 L158.10,524.21 L160.60,519.86 L163.10,513.75 L167.50,512.83 L170.60,509.59 L174.40,510.51 L181.25,504.75 L185.00,507.49 L188.60,507.25 L192.25,511.00 L197.50,512.08 L202.75,513.60 L209.40,506.14 L213.50,500.75 L220.60,505.85 L224.40,504.40 L227.90,513.35 L231.25,515.00 L235.00,523.60 L238.50,523.16 L241.90,516.68 L245.25,513.50 L249.40,522.96 L251.90,527.21 L256.25,533.10 L262.50,529.37 L266.60,526.05 L270.25,520.45 L273.75,518.94 L277.50,516.75 L281.25,512.54 L286.25,511.22 L290.00,510.24 L295.50,508.40 L298.00,526.36 L299.60,534.78 L302.50,543.60 L310.00,546.00 L313.00,540.55 L316.20,540.03 L324.00,544.90 L327.50,538.26 L331.00,536.00 L338.00,535.80 L345.00,541.77 L349.00,542.10 L353.00,534.27 L356.00,529.75 L359.50,527.40 L363.00,533.00 L367.50,531.17 L371.00,527.21 L373.60,523.47 L378.00,522.35 L381.00,522.07 L384.70,526.40 L390.00,518.26 L395.00,512.00 L400.00,507.81 L405.50,504.58 L409.40,507.10 L413.10,507.52 L416.90,511.10 L420.00,503.50 L423.75,503.05 L427.50,506.50 L430.60,503.38 L434.75,500.20 L438.10,491.08 L441.00,481.00 L445.00,476.59 L447.50,470.00 L451.25,460.60 L455.00,458.45 L459.90,457.60 L462.90,443.50 L466.25,441.15 L470.00,440.28 L473.10,434.93 L476.90,432.50 L480.60,440.85 L483.75,434.65 L487.50,419.81 L491.25,402.19 L495.00,389.98 L498.10,381.25 L502.00,377.70 L505.60,387.60 L509.40,387.50 L512.75,388.35 L516.25,363.25 L519.75,372.70 L522.75,358.84 L526.90,345.40 L530.00,342.40 L534.40,337.47 L537.75,332.79 L541.00,323.75 L544.40,321.37 L548.10,317.47 L551.90,313.42 L555.00,314.18 L559.00,318.71 L562.50,317.70 L565.60,308.44 L567.50,297.76 L569.40,283.50 L573.10,271.60 L576.50,281.50 L580.40,285.20 L583.75,280.08 L587.50,274.99 L591.25,273.93 L595.00,275.73 L598.75,273.00 L601.90,268.59 L605.00,260.85 L608.10,238.50 L612.10,225.00 L615.60,231.10 L619.40,230.60 L623.10,220.20 L626.60,200.63 L630.40,172.90 L633.10,197.10 L634.40,200.52 L637.30,204.67 L641.25,206.30 L644.40,232.60 L648.10,245.20 L651.90,247.10 L658.10,231.45 L662.00,225.10 L665.60,210.40 L669.40,207.48 L673.10,207.10 L676.40,222.10 L680.00,222.68 L683.50,220.00 L687.25,222.70 L691.00,215.31 L694.70,202.10 L697.70,150.40 L701.50,144.00 L705.00,111.00 L708.75,123.85 L711.90,135.60 L715.60,133.35 L719.00,87.50 L722.75,87.50 L726.25,91.58 L730.00,91.60 L733.50,99.60 L736.90,98.35 L740.60,81.00 L744.00,85.85 L747.25,75.40 L751.25,71.00 L754.75,75.94 L758.50,76.90 L761.90,79.35 L765.40,72.25 L769.00,78.60 L772.50,74.75 L776.50,76.50 L779.75,70.00 L785.00,72.39 L790.60,77.90 L791.90,87.29 L797.50,121.50 L800.60,108.57 L804.75,87.90 L808.10,87.50 L811.90,100.20 L815.40,104.73 L818.75,104.84 L822.50,111.00 L826.10,124.35 L829.70,120.00 L833.10,129.75 L836.90,185.85 L840.60,194.71 L846.90,216.50 L851.25,222.24 L854.40,230.85 L858.10,232.90 L861.90,242.27 L865.25,247.14 L869.40,245.20 L872.50,237.90 L876.00,245.40 L879.40,270.85 L883.10,272.55 L886.50,277.10 L890.00,262.90 L893.75,259.50 L898.10,268.55 L902.50,274.78 L907.50,277.24 L911.90,274.93 L915.60,273.35 L918.75,260.40 L922.25,262.10 L926.25,266.30 L929.40,266.10 L932.80,252.25 L936.90,255.90 L940.00,269.60 L943.75,263.57 L947.25,255.40 L950.60,281.80 L958.10,290.40 L961.90,299.92 L965.30,310.20 L968.75,308.50 L972.40,315.71 L975.60,317.96 L979.40,318.50 L983.10,325.56 L986.90,332.83 L990.00,334.30 L993.75,333.69 L997.50,331.60 L1001.25,323.84 L1004.20,314.60 L1007.50,278.00 L1011.25,253.50 L1015.00,237.90 L1018.10,249.60 L1021.90,255.58 L1025.60,260.20 L1029.10,252.90 L1032.50,269.19 L1036.25,290.60 L1040.00,290.53 L1043.10,292.91 L1050.00,302.80 L1056.25,307.30 L1060.30,312.83 L1063.50,323.00 L1065.60,337.25 L1068.10,366.00 L1068.10,526.1 L49.20,526.1 Z" fill="url(#gg)" clip-path="url(#up)"/>
<path d="M49.20,528.00 L56.90,507.50 L62.50,504.73 L67.50,502.98 L71.90,502.64 L74.75,501.72 L82.50,506.75 L86.25,507.40 L89.40,507.07 L93.10,511.72 L96.90,513.88 L101.25,513.88 L103.75,514.93 L106.90,520.67 L108.50,526.86 L113.10,544.60 L117.50,547.12 L123.75,542.69 L128.75,543.02 L135.00,542.74 L139.40,540.30 L143.10,539.63 L149.40,535.60 L152.50,529.04 L158.10,524.21 L160.60,519.86 L163.10,513.75 L167.50,512.83 L170.60,509.59 L174.40,510.51 L181.25,504.75 L185.00,507.49 L188.60,507.25 L192.25,511.00 L197.50,512.08 L202.75,513.60 L209.40,506.14 L213.50,500.75 L220.60,505.85 L224.40,504.40 L227.90,513.35 L231.25,515.00 L235.00,523.60 L238.50,523.16 L241.90,516.68 L245.25,513.50 L249.40,522.96 L251.90,527.21 L256.25,533.10 L262.50,529.37 L266.60,526.05 L270.25,520.45 L273.75,518.94 L277.50,516.75 L281.25,512.54 L286.25,511.22 L290.00,510.24 L295.50,508.40 L298.00,526.36 L299.60,534.78 L302.50,543.60 L310.00,546.00 L313.00,540.55 L316.20,540.03 L324.00,544.90 L327.50,538.26 L331.00,536.00 L338.00,535.80 L345.00,541.77 L349.00,542.10 L353.00,534.27 L356.00,529.75 L359.50,527.40 L363.00,533.00 L367.50,531.17 L371.00,527.21 L373.60,523.47 L378.00,522.35 L381.00,522.07 L384.70,526.40 L390.00,518.26 L395.00,512.00 L400.00,507.81 L405.50,504.58 L409.40,507.10 L413.10,507.52 L416.90,511.10 L420.00,503.50 L423.75,503.05 L427.50,506.50 L430.60,503.38 L434.75,500.20 L438.10,491.08 L441.00,481.00 L445.00,476.59 L447.50,470.00 L451.25,460.60 L455.00,458.45 L459.90,457.60 L462.90,443.50 L466.25,441.15 L470.00,440.28 L473.10,434.93 L476.90,432.50 L480.60,440.85 L483.75,434.65 L487.50,419.81 L491.25,402.19 L495.00,389.98 L498.10,381.25 L502.00,377.70 L505.60,387.60 L509.40,387.50 L512.75,388.35 L516.25,363.25 L519.75,372.70 L522.75,358.84 L526.90,345.40 L530.00,342.40 L534.40,337.47 L537.75,332.79 L541.00,323.75 L544.40,321.37 L548.10,317.47 L551.90,313.42 L555.00,314.18 L559.00,318.71 L562.50,317.70 L565.60,308.44 L567.50,297.76 L569.40,283.50 L573.10,271.60 L576.50,281.50 L580.40,285.20 L583.75,280.08 L587.50,274.99 L591.25,273.93 L595.00,275.73 L598.75,273.00 L601.90,268.59 L605.00,260.85 L608.10,238.50 L612.10,225.00 L615.60,231.10 L619.40,230.60 L623.10,220.20 L626.60,200.63 L630.40,172.90 L633.10,197.10 L634.40,200.52 L637.30,204.67 L641.25,206.30 L644.40,232.60 L648.10,245.20 L651.90,247.10 L658.10,231.45 L662.00,225.10 L665.60,210.40 L669.40,207.48 L673.10,207.10 L676.40,222.10 L680.00,222.68 L683.50,220.00 L687.25,222.70 L691.00,215.31 L694.70,202.10 L697.70,150.40 L701.50,144.00 L705.00,111.00 L708.75,123.85 L711.90,135.60 L715.60,133.35 L719.00,87.50 L722.75,87.50 L726.25,91.58 L730.00,91.60 L733.50,99.60 L736.90,98.35 L740.60,81.00 L744.00,85.85 L747.25,75.40 L751.25,71.00 L754.75,75.94 L758.50,76.90 L761.90,79.35 L765.40,72.25 L769.00,78.60 L772.50,74.75 L776.50,76.50 L779.75,70.00 L785.00,72.39 L790.60,77.90 L791.90,87.29 L797.50,121.50 L800.60,108.57 L804.75,87.90 L808.10,87.50 L811.90,100.20 L815.40,104.73 L818.75,104.84 L822.50,111.00 L826.10,124.35 L829.70,120.00 L833.10,129.75 L836.90,185.85 L840.60,194.71 L846.90,216.50 L851.25,222.24 L854.40,230.85 L858.10,232.90 L861.90,242.27 L865.25,247.14 L869.40,245.20 L872.50,237.90 L876.00,245.40 L879.40,270.85 L883.10,272.55 L886.50,277.10 L890.00,262.90 L893.75,259.50 L898.10,268.55 L902.50,274.78 L907.50,277.24 L911.90,274.93 L915.60,273.35 L918.75,260.40 L922.25,262.10 L926.25,266.30 L929.40,266.10 L932.80,252.25 L936.90,255.90 L940.00,269.60 L943.75,263.57 L947.25,255.40 L950.60,281.80 L958.10,290.40 L961.90,299.92 L965.30,310.20 L968.75,308.50 L972.40,315.71 L975.60,317.96 L979.40,318.50 L983.10,325.56 L986.90,332.83 L990.00,334.30 L993.75,333.69 L997.50,331.60 L1001.25,323.84 L1004.20,314.60 L1007.50,278.00 L1011.25,253.50 L1015.00,237.90 L1018.10,249.60 L1021.90,255.58 L1025.60,260.20 L1029.10,252.90 L1032.50,269.19 L1036.25,290.60 L1040.00,290.53 L1043.10,292.91 L1050.00,302.80 L1056.25,307.30 L1060.30,312.83 L1063.50,323.00 L1065.60,337.25 L1068.10,366.00 L1068.10,526.1 L49.20,526.1 Z" fill="#ea3943" fill-opacity="0.28" clip-path="url(#dn)"/>
<path d="M49.20,528.00 L56.90,507.50 L62.50,504.73 L67.50,502.98 L71.90,502.64 L74.75,501.72 L82.50,506.75 L86.25,507.40 L89.40,507.07 L93.10,511.72 L96.90,513.88 L101.25,513.88 L103.75,514.93 L106.90,520.67 L108.50,526.86 L113.10,544.60 L117.50,547.12 L123.75,542.69 L128.75,543.02 L135.00,542.74 L139.40,540.30 L143.10,539.63 L149.40,535.60 L152.50,529.04 L158.10,524.21 L160.60,519.86 L163.10,513.75 L167.50,512.83 L170.60,509.59 L174.40,510.51 L181.25,504.75 L185.00,507.49 L188.60,507.25 L192.25,511.00 L197.50,512.08 L202.75,513.60 L209.40,506.14 L213.50,500.75 L220.60,505.85 L224.40,504.40 L227.90,513.35 L231.25,515.00 L235.00,523.60 L238.50,523.16 L241.90,516.68 L245.25,513.50 L249.40,522.96 L251.90,527.21 L256.25,533.10 L262.50,529.37 L266.60,526.05 L270.25,520.45 L273.75,518.94 L277.50,516.75 L281.25,512.54 L286.25,511.22 L290.00,510.24 L295.50,508.40 L298.00,526.36 L299.60,534.78 L302.50,543.60 L310.00,546.00 L313.00,540.55 L316.20,540.03 L324.00,544.90 L327.50,538.26 L331.00,536.00 L338.00,535.80 L345.00,541.77 L349.00,542.10 L353.00,534.27 L356.00,529.75 L359.50,527.40 L363.00,533.00 L367.50,531.17 L371.00,527.21 L373.60,523.47 L378.00,522.35 L381.00,522.07 L384.70,526.40 L390.00,518.26 L395.00,512.00 L400.00,507.81 L405.50,504.58 L409.40,507.10 L413.10,507.52 L416.90,511.10 L420.00,503.50 L423.75,503.05 L427.50,506.50 L430.60,503.38 L434.75,500.20 L438.10,491.08 L441.00,481.00 L445.00,476.59 L447.50,470.00 L451.25,460.60 L455.00,458.45 L459.90,457.60 L462.90,443.50 L466.25,441.15 L470.00,440.28 L473.10,434.93 L476.90,432.50 L480.60,440.85 L483.75,434.65 L487.50,419.81 L491.25,402.19 L495.00,389.98 L498.10,381.25 L502.00,377.70 L505.60,387.60 L509.40,387.50 L512.75,388.35 L516.25,363.25 L519.75,372.70 L522.75,358.84 L526.90,345.40 L530.00,342.40 L534.40,337.47 L537.75,332.79 L541.00,323.75 L544.40,321.37 L548.10,317.47 L551.90,313.42 L555.00,314.18 L559.00,318.71 L562.50,317.70 L565.60,308.44 L567.50,297.76 L569.40,283.50 L573.10,271.60 L576.50,281.50 L580.40,285.20 L583.75,280.08 L587.50,274.99 L591.25,273.93 L595.00,275.73 L598.75,273.00 L601.90,268.59 L605.00,260.85 L608.10,238.50 L612.10,225.00 L615.60,231.10 L619.40,230.60 L623.10,220.20 L626.60,200.63 L630.40,172.90 L633.10,197.10 L634.40,200.52 L637.30,204.67 L641.25,206.30 L644.40,232.60 L648.10,245.20 L651.90,247.10 L658.10,231.45 L662.00,225.10 L665.60,210.40 L669.40,207.48 L673.10,207.10 L676.40,222.10 L680.00,222.68 L683.50,220.00 L687.25,222.70 L691.00,215.31 L694.70,202.10 L697.70,150.40 L701.50,144.00 L705.00,111.00 L708.75,123.85 L711.90,135.60 L715.60,133.35 L719.00,87.50 L722.75,87.50 L726.25,91.58 L730.00,91.60 L733.50,99.60 L736.90,98.35 L740.60,81.00 L744.00,85.85 L747.25,75.40 L751.25,71.00 L754.75,75.94 L758.50,76.90 L761.90,79.35 L765.40,72.25 L769.00,78.60 L772.50,74.75 L776.50,76.50 L779.75,70.00 L785.00,72.39 L790.60,77.90 L791.90,87.29 L797.50,121.50 L800.60,108.57 L804.75,87.90 L808.10,87.50 L811.90,100.20 L815.40,104.73 L818.75,104.84 L822.50,111.00 L826.10,124.35 L829.70,120.00 L833.10,129.75 L836.90,185.85 L840.60,194.71 L846.90,216.50 L851.25,222.24 L854.40,230.85 L858.10,232.90 L861.90,242.27 L865.25,247.14 L869.40,245.20 L872.50,237.90 L876.00,245.40 L879.40,270.85 L883.10,272.55 L886.50,277.10 L890.00,262.90 L893.75,259.50 L898.10,268.55 L902.50,274.78 L907.50,277.24 L911.90,274.93 L915.60,273.35 L918.75,260.40 L922.25,262.10 L926.25,266.30 L929.40,266.10 L932.80,252.25 L936.90,255.90 L940.00,269.60 L943.75,263.57 L947.25,255.40 L950.60,281.80 L958.10,290.40 L961.90,299.92 L965.30,310.20 L968.75,308.50 L972.40,315.71 L975.60,317.96 L979.40,318.50 L983.10,325.56 L986.90,332.83 L990.00,334.30 L993.75,333.69 L997.50,331.60 L1001.25,323.84 L1004.20,314.60 L1007.50,278.00 L1011.25,253.50 L1015.00,237.90 L1018.10,249.60 L1021.90,255.58 L1025.60,260.20 L1029.10,252.90 L1032.50,269.19 L1036.25,290.60 L1040.00,290.53 L1043.10,292.91 L1050.00,302.80 L1056.25,307.30 L1060.30,312.83 L1063.50,323.00 L1065.60,337.25 L1068.10,366.00" fill="none" stroke="#16c784" stroke-width="4" stroke-linejoin="round" stroke-linecap="butt" clip-path="url(#up)"/>
<path d="M49.20,528.00 L56.90,507.50 L62.50,504.73 L67.50,502.98 L71.90,502.64 L74.75,501.72 L82.50,506.75 L86.25,507.40 L89.40,507.07 L93.10,511.72 L96.90,513.88 L101.25,513.88 L103.75,514.93 L106.90,520.67 L108.50,526.86 L113.10,544.60 L117.50,547.12 L123.75,542.69 L128.75,543.02 L135.00,542.74 L139.40,540.30 L143.10,539.63 L149.40,535.60 L152.50,529.04 L158.10,524.21 L160.60,519.86 L163.10,513.75 L167.50,512.83 L170.60,509.59 L174.40,510.51 L181.25,504.75 L185.00,507.49 L188.60,507.25 L192.25,511.00 L197.50,512.08 L202.75,513.60 L209.40,506.14 L213.50,500.75 L220.60,505.85 L224.40,504.40 L227.90,513.35 L231.25,515.00 L235.00,523.60 L238.50,523.16 L241.90,516.68 L245.25,513.50 L249.40,522.96 L251.90,527.21 L256.25,533.10 L262.50,529.37 L266.60,526.05 L270.25,520.45 L273.75,518.94 L277.50,516.75 L281.25,512.54 L286.25,511.22 L290.00,510.24 L295.50,508.40 L298.00,526.36 L299.60,534.78 L302.50,543.60 L310.00,546.00 L313.00,540.55 L316.20,540.03 L324.00,544.90 L327.50,538.26 L331.00,536.00 L338.00,535.80 L345.00,541.77 L349.00,542.10 L353.00,534.27 L356.00,529.75 L359.50,527.40 L363.00,533.00 L367.50,531.17 L371.00,527.21 L373.60,523.47 L378.00,522.35 L381.00,522.07 L384.70,526.40 L390.00,518.26 L395.00,512.00 L400.00,507.81 L405.50,504.58 L409.40,507.10 L413.10,507.52 L416.90,511.10 L420.00,503.50 L423.75,503.05 L427.50,506.50 L430.60,503.38 L434.75,500.20 L438.10,491.08 L441.00,481.00 L445.00,476.59 L447.50,470.00 L451.25,460.60 L455.00,458.45 L459.90,457.60 L462.90,443.50 L466.25,441.15 L470.00,440.28 L473.10,434.93 L476.90,432.50 L480.60,440.85 L483.75,434.65 L487.50,419.81 L491.25,402.19 L495.00,389.98 L498.10,381.25 L502.00,377.70 L505.60,387.60 L509.40,387.50 L512.75,388.35 L516.25,363.25 L519.75,372.70 L522.75,358.84 L526.90,345.40 L530.00,342.40 L534.40,337.47 L537.75,332.79 L541.00,323.75 L544.40,321.37 L548.10,317.47 L551.90,313.42 L555.00,314.18 L559.00,318.71 L562.50,317.70 L565.60,308.44 L567.50,297.76 L569.40,283.50 L573.10,271.60 L576.50,281.50 L580.40,285.20 L583.75,280.08 L587.50,274.99 L591.25,273.93 L595.00,275.73 L598.75,273.00 L601.90,268.59 L605.00,260.85 L608.10,238.50 L612.10,225.00 L615.60,231.10 L619.40,230.60 L623.10,220.20 L626.60,200.63 L630.40,172.90 L633.10,197.10 L634.40,200.52 L637.30,204.67 L641.25,206.30 L644.40,232.60 L648.10,245.20 L651.90,247.10 L658.10,231.45 L662.00,225.10 L665.60,210.40 L669.40,207.48 L673.10,207.10 L676.40,222.10 L680.00,222.68 L683.50,220.00 L687.25,222.70 L691.00,215.31 L694.70,202.10 L697.70,150.40 L701.50,144.00 L705.00,111.00 L708.75,123.85 L711.90,135.60 L715.60,133.35 L719.00,87.50 L722.75,87.50 L726.25,91.58 L730.00,91.60 L733.50,99.60 L736.90,98.35 L740.60,81.00 L744.00,85.85 L747.25,75.40 L751.25,71.00 L754.75,75.94 L758.50,76.90 L761.90,79.35 L765.40,72.25 L769.00,78.60 L772.50,74.75 L776.50,76.50 L779.75,70.00 L785.00,72.39 L790.60,77.90 L791.90,87.29 L797.50,121.50 L800.60,108.57 L804.75,87.90 L808.10,87.50 L811.90,100.20 L815.40,104.73 L818.75,104.84 L822.50,111.00 L826.10,124.35 L829.70,120.00 L833.10,129.75 L836.90,185.85 L840.60,194.71 L846.90,216.50 L851.25,222.24 L854.40,230.85 L858.10,232.90 L861.90,242.27 L865.25,247.14 L869.40,245.20 L872.50,237.90 L876.00,245.40 L879.40,270.85 L883.10,272.55 L886.50,277.10 L890.00,262.90 L893.75,259.50 L898.10,268.55 L902.50,274.78 L907.50,277.24 L911.90,274.93 L915.60,273.35 L918.75,260.40 L922.25,262.10 L926.25,266.30 L929.40,266.10 L932.80,252.25 L936.90,255.90 L940.00,269.60 L943.75,263.57 L947.25,255.40 L950.60,281.80 L958.10,290.40 L961.90,299.92 L965.30,310.20 L968.75,308.50 L972.40,315.71 L975.60,317.96 L979.40,318.50 L983.10,325.56 L986.90,332.83 L990.00,334.30 L993.75,333.69 L997.50,331.60 L1001.25,323.84 L1004.20,314.60 L1007.50,278.00 L1011.25,253.50 L1015.00,237.90 L1018.10,249.60 L1021.90,255.58 L1025.60,260.20 L1029.10,252.90 L1032.50,269.19 L1036.25,290.60 L1040.00,290.53 L1043.10,292.91 L1050.00,302.80 L1056.25,307.30 L1060.30,312.83 L1063.50,323.00 L1065.60,337.25 L1068.10,366.00" fill="none" stroke="#ea3943" stroke-width="4" stroke-linejoin="round" stroke-linecap="butt" clip-path="url(#dn)"/>
<line x1="48" x2="1071" y1="527.0" y2="527.0" stroke="#8d95a6" stroke-width="2" stroke-dasharray="2 6"/>
<g opacity="0.99">
<text transform="translate(1082.1,148.1) scale(1,1.05)" class="t">0.240</text>
<text transform="translate(1082.1,270.0) scale(1,1.05)" class="t">0.235</text>
<text transform="translate(1082.1,390.0) scale(1,1.05)" class="t">0.230</text>
<text transform="translate(1082.1,511.9) scale(1,1.05)" class="t">0.225</text>
<text transform="translate(1082.1,632.1) scale(1,1.05)" class="t">0.220</text>
<text transform="translate(135.7,770.1) scale(1,1.05)" text-anchor="middle" class="t">12:00 PM</text>
<text transform="translate(306.3,770.1) scale(1,1.05)" text-anchor="middle" class="t">4:00 PM</text>
<text transform="translate(477.0,770.1) scale(1,1.05)" text-anchor="middle" class="t">8:00 PM</text>
<text transform="translate(648.0,770.1) scale(1,1.05)" text-anchor="middle" class="t">19 Mar</text>
<text transform="translate(819.2,770.1) scale(1,1.05)" text-anchor="middle" class="t">4:00 AM</text>
<text transform="translate(990.2,770.1) scale(1,1.05)" text-anchor="middle" class="t">8:00 AM</text>
</g>
</svg>
</body></html>
